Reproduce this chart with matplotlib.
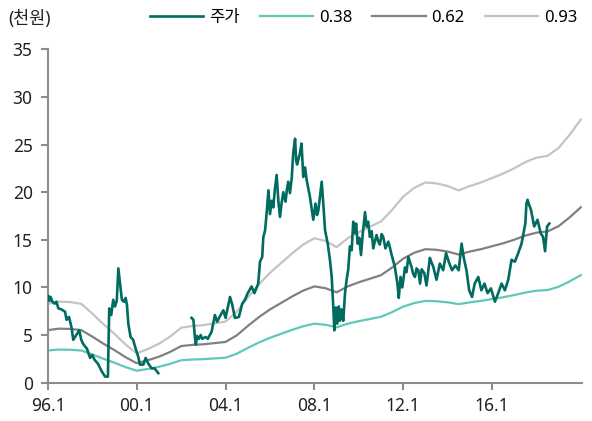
import numpy as np
import matplotlib.pyplot as plt

plt.rcParams['font.family'] = ['Noto Sans', 'Noto Sans CJK KR', 'DejaVu Sans']

# share price (thousand won), time in decimal years; NaN marks the trading gap
price_t = [1996.0, 1996.03, 1996.07, 1996.12, 1996.2, 1996.3, 1996.38, 1996.47, 1996.6, 1996.77, 1996.84,
           1996.95, 1997.07, 1997.14, 1997.3, 1997.41, 1997.5, 1997.58, 1997.67, 1997.75, 1997.9, 1998.0, 1998.1,
           1998.25, 1998.42, 1998.57, 1998.7, 1998.76, 1998.85, 1998.94, 1999.02, 1999.1, 1999.17,
           1999.25, 1999.33, 1999.42, 1999.5, 1999.56, 1999.62, 1999.72, 1999.84, 1999.92, 2000.07,
           2000.14, 2000.3, 2000.4, 2000.52, 2000.67, 2000.8, 2000.97,
           2001.5,
           2002.47, 2002.55, 2002.62, 2002.66, 2002.72, 2002.8, 2002.88, 2002.95, 2003.1, 2003.2, 2003.37, 2003.52,
           2003.62, 2003.75, 2003.9, 2004.0, 2004.2, 2004.3, 2004.42, 2004.6, 2004.75, 2004.87, 2005.0,
           2005.17, 2005.3, 2005.47, 2005.55, 2005.65, 2005.7, 2005.78, 2005.85, 2005.93, 2006.0,
           2006.08, 2006.15, 2006.22, 2006.3, 2006.38, 2006.45, 2006.52, 2006.6, 2006.7, 2006.76, 2006.82, 2006.9, 2006.98, 2007.05,
           2007.13, 2007.18, 2007.22, 2007.35, 2007.42, 2007.5, 2007.58, 2007.65, 2007.8, 2007.95, 2008.05, 2008.12, 2008.18,
           2008.33, 2008.4, 2008.48, 2008.6, 2008.7, 2008.78, 2008.85, 2008.9, 2008.97, 2009.03,
           2009.1, 2009.15, 2009.22, 2009.3, 2009.38, 2009.45, 2009.52, 2009.6, 2009.68, 2009.75,
           2009.82, 2009.88, 2009.95, 2010.02, 2010.1, 2010.18, 2010.28, 2010.35, 2010.42, 2010.5, 2010.58, 2010.65, 2010.72, 2010.8,
           2010.88, 2010.95, 2011.03, 2011.1, 2011.2, 2011.33, 2011.4, 2011.48, 2011.62, 2011.74, 2011.8, 2011.88, 2011.96,
           2012.08, 2012.15, 2012.23, 2012.3, 2012.38, 2012.45, 2012.53, 2012.6, 2012.68, 2012.76, 2012.83, 2012.95, 2013.05, 2013.2,
           2013.28, 2013.35, 2013.5, 2013.58, 2013.65, 2013.8, 2013.93, 2014.05, 2014.2, 2014.35, 2014.5, 2014.63,
           2014.72, 2014.85, 2014.97, 2015.1, 2015.22, 2015.38, 2015.52, 2015.66, 2015.8, 2015.95,
           2016.13, 2016.28, 2016.43, 2016.58, 2016.73, 2016.88, 2017.03, 2017.18, 2017.33, 2017.5,
           2017.55, 2017.6, 2017.68, 2017.75, 2017.9, 2018.05, 2018.19, 2018.3, 2018.39, 2018.48, 2018.58]
price_v = [8.7, 9.1, 8.6, 9.0, 8.5, 8.3, 8.5, 7.8, 7.7, 7.45, 6.6,
           6.9, 5.7, 4.5, 5.1, 5.5, 4.5, 4.1, 3.8, 3.6, 2.6, 2.9, 2.4,
           2.0, 1.2, 0.65, 0.63, 7.8, 7.1, 8.7, 8.0, 8.6, 12.0,
           10.4, 8.7, 8.5, 8.9, 8.1, 6.2, 4.8, 4.5, 3.8, 2.7,
           1.9, 1.9, 2.6, 2.0, 1.5, 1.5, 1.0,
           np.nan,
           6.8, 6.6, 4.8, 4.0, 4.9, 4.6, 5.0, 4.6, 4.8, 4.6, 5.35, 7.1,
           6.4, 7.0, 7.6, 6.8, 9.0, 8.2, 6.8, 6.9, 8.3, 8.7, 9.4,
           10.1, 9.4, 10.4, 12.7, 13.2, 15.3, 16.0, 17.8, 20.2, 17.7,
           19.1, 18.4, 20.3, 21.8, 19.0, 17.4, 18.8, 20.0, 19.0, 20.2, 21.1, 19.9, 21.5, 24.2,
           25.6, 23.3, 22.9, 24.1, 25.1, 21.6, 22.6, 21.3, 19.5, 17.1, 18.8, 17.6, 18.1,
           21.1, 18.8, 16.0, 14.6, 12.9, 11.1, 8.0, 5.5, 7.9, 6.2,
           8.0, 6.5, 7.7, 6.5, 9.4, 10.8, 11.8, 14.3, 13.9, 16.9,
           15.7, 16.7, 14.6, 15.2, 13.4, 15.7, 17.9, 16.4, 16.9, 15.3, 15.9, 14.1, 14.8, 15.5,
           14.8, 14.5, 15.6, 15.3, 14.1, 14.8, 14.2, 13.4, 12.2, 10.4, 8.9, 11.1, 10.0,
           12.1, 11.6, 13.2, 12.7, 12.1, 11.4, 11.1, 12.0, 11.8, 10.4, 11.9, 11.5, 10.2, 13.1,
           12.6, 12.2, 10.8, 11.7, 12.5, 11.8, 13.6, 12.7, 11.8, 12.3, 11.8, 14.6,
           13.2, 11.8, 9.7, 9.0, 10.4, 11.1, 9.7, 10.4, 9.4, 9.9,
           8.5, 9.4, 10.4, 9.7, 10.8, 12.9, 12.7, 13.6, 14.6, 16.7,
           18.8, 19.2, 18.6, 18.2, 16.4, 17.1, 15.7, 15.3, 13.8, 16.4, 16.7]

# book value per share (thousand won) for the PBR band lines
bps_t = [1996.0, 1996.5, 1997.0, 1997.5, 1998.0, 1998.5, 1999.0, 1999.5, 2000.0, 2000.5,
         2001.0, 2001.5, 2002.0, 2002.5, 2003.0, 2003.5, 2004.0, 2004.5, 2005.0, 2005.5,
         2006.0, 2006.5, 2007.0, 2007.5, 2008.0, 2008.5, 2009.0, 2009.5, 2010.0, 2010.5,
         2011.0, 2011.5, 2012.0, 2012.5, 2013.0, 2013.5, 2014.0, 2014.5, 2015.0, 2015.5,
         2016.0, 2016.5, 2017.0, 2017.5, 2018.0, 2018.5, 2019.0, 2019.5, 2020.0]
bps_v = [8.9, 9.15, 9.1, 8.9, 7.8, 6.6, 5.5, 4.3, 3.3, 3.8,
         4.4, 5.2, 6.2, 6.4, 6.5, 6.7, 6.9, 8.0, 9.6, 11.1,
         12.4, 13.5, 14.6, 15.6, 16.3, 16.0, 15.3, 16.3, 17.0, 17.6,
         18.2, 19.5, 21.0, 22.0, 22.6, 22.5, 22.2, 21.7, 22.2, 22.6,
         23.1, 23.6, 24.2, 24.9, 25.4, 25.6, 26.5, 28.0, 29.7]

multiples = [0.38, 0.62, 0.93]
band_colors = ['#5fc9b8', '#808080', '#c4c4c4']

fig = plt.figure(figsize=(5.92, 4.21), dpi=100)
ax = fig.add_axes([0.081, 0.091, 0.902, 0.792])

ax.plot(price_t, price_v, color='#006b5f', lw=1.9, label='주가', zorder=5)
bps = np.array(bps_v)
for m, c in zip(multiples, band_colors):
    ax.plot(bps_t, bps * m, color=c, lw=1.6, label=f'{m:.2f}')

ax.set_xlim(1996.0, 2020.05)
ax.set_ylim(0, 35)
ax.set_yticks(range(0, 36, 5))
ax.set_xticks([1996, 2000, 2004, 2008, 2012, 2016])
ax.set_xticklabels(['96.1', '00.1', '04.1', '08.1', '12.1', '16.1'])

for s in ['top', 'right']:
    ax.spines[s].set_visible(False)
for s in ['left', 'bottom']:
    ax.spines[s].set_color('#8c8c8c')
    ax.spines[s].set_linewidth(1.5)
ax.tick_params(axis='both', colors='#8c8c8c', width=1.5, length=5, labelsize=12.5,
               labelcolor='#222222')
ax.tick_params(axis='x', pad=5)
ax.tick_params(axis='y', pad=6)

fig.text(0.014, 0.955, '(천원)', fontsize=12.5, color='#222222', va='center')
fig.legend(loc='center left', bbox_to_anchor=(0.253, 0.957), ncol=4, frameon=False,
           fontsize=12, handlelength=3.2, columnspacing=1.2, handletextpad=0.35,
           borderpad=0, borderaxespad=0)

fig.savefig('out.png', dpi=100)
